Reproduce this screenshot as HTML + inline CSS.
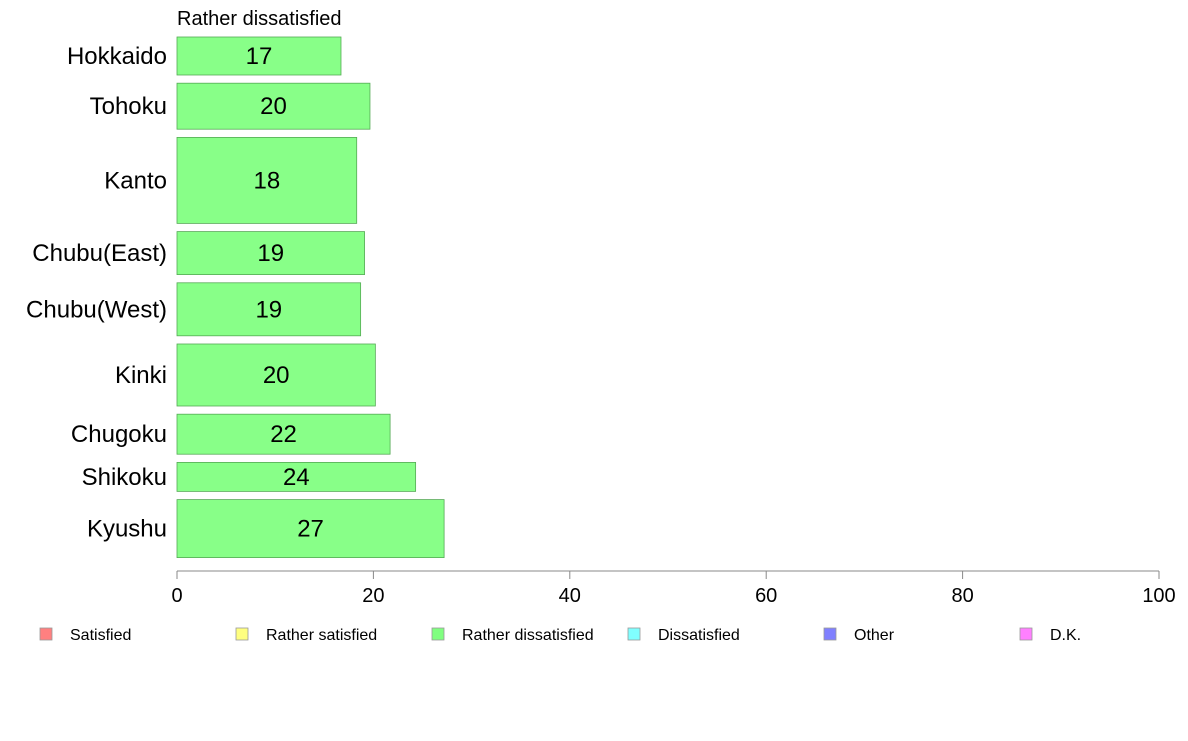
<!DOCTYPE html>
<html><head><meta charset="utf-8"><style>
body{margin:0;background:#fff;font-family:"Liberation Sans",sans-serif}
</style></head><body>
<svg width="1188" height="736" id="c" font-family="Liberation Sans, sans-serif"></svg>
<script>
const categories=["Hokkaido","Tohoku","Kanto","Chubu(East)","Chubu(West)","Kinki","Chugoku","Shikoku","Kyushu"];
const values=[16.7,19.65,18.3,19.1,18.7,20.2,21.7,24.3,27.2];
const labels=["17","20","18","19","19","20","22","24","27"];
const sizes=[38,46,86,43,53,62,40,29,58];
const ticks=[0,20,40,60,80,100];
const legendItems=["Satisfied","Rather satisfied","Rather dissatisfied","Dissatisfied","Other","D.K."];
const legendColors=["#ff8080","#ffff80","#80ff80","#80ffff","#8080ff","#ff80ff"];
const NS="http://www.w3.org/2000/svg";
const svg=document.getElementById('c');
function el(t,a,txt){const e=document.createElementNS(NS,t);for(const k in a)e.setAttribute(k,a[k]);if(txt!==undefined)e.textContent=txt;svg.appendChild(e);return e;}
const x=v=>177+v*9.82;
const gap=8.2, top0=37;
const title=el('text',{x:177,y:25,'font-size':20},"Rather dissatisfied");


let y=top0;
categories.forEach((c,i)=>{
 const h=sizes[i];
 const r=el('rect',{x:x(0),y:y,width:x(values[i])-x(0),height:h,fill:'#88ff88',stroke:'#55aa55','stroke-width':0.8});
 
 
 const t=el('text',{x:(x(0)+x(values[i]))/2,y:y+h/2+8,'font-size':24,'text-anchor':'middle'},labels[i]);
 
 
 const l=el('text',{x:167,y:y+h/2+8,'font-size':24,'text-anchor':'end'},c);
 
 
 y+=h+gap;
});
const ax=el('line',{x1:x(0),x2:x(100),y1:571,y2:571,stroke:'#888'});


ticks.forEach(v=>{
 const tl=el('line',{x1:x(v),x2:x(v),y1:571,y2:579,stroke:'#888'});
 
 
 const tt=el('text',{x:x(v),y:602,'font-size':20,'text-anchor':'middle'},String(v));
 
 
});
legendItems.forEach((n,i)=>{
 const lx=40+i*196;
 const s=el('rect',{x:lx,y:628,width:12,height:12,fill:legendColors[i],stroke:'#999','stroke-width':0.8});
 
 
 const t=el('text',{x:lx+30,y:640,'font-size':16},n);
 
 
});
</script>
</body></html>
